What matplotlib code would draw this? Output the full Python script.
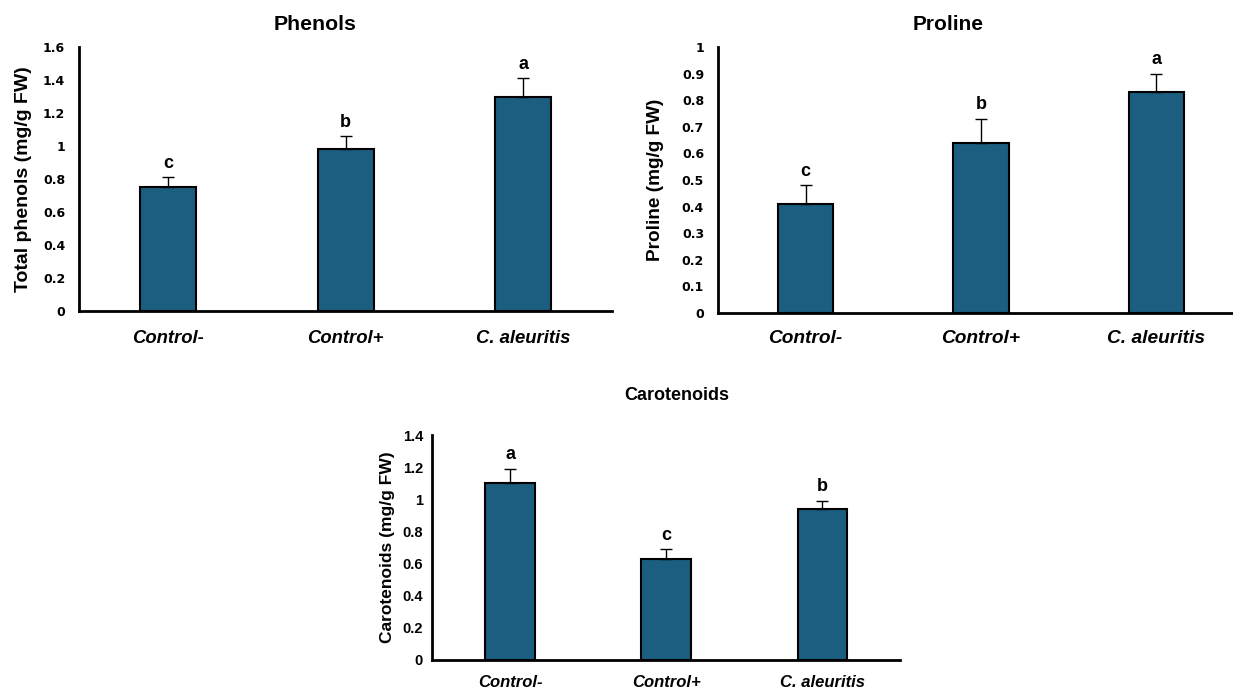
# Phenols, proline and carotenoids bar charts
import numpy as np
import matplotlib
matplotlib.use("Agg")
import matplotlib.pyplot as plt

plt.rcParams['font.family'] = ['Liberation Sans', 'DejaVu Sans']

# Data
groups = ["Control-", "Control+", "C. aleuritis"]

phenols = [0.75, 0.98, 1.30]
phenols_err = [0.06, 0.08, 0.11]
phenols_letters = ["c", "b", "a"]

proline = [0.41, 0.64, 0.83]
proline_err = [0.07, 0.09, 0.07]
proline_letters = ["c", "b", "a"]

carotenoids = [1.10, 0.63, 0.94]
carotenoids_err = [0.09, 0.06, 0.05]
carotenoids_letters = ["a", "c", "b"]

BAR_COLOR = "#1b5e80"


def draw_panel(ax, values, errs, letters, ylabel, ymax, step,
               lab_size, ylab_size, tick_font, tick_size, ypad, xpad, ylabpad):
    x = np.arange(len(groups))
    ax.bar(x, values, width=0.315, color=BAR_COLOR, edgecolor="black",
           linewidth=1.5, zorder=2)
    ax.errorbar(x, values, yerr=[np.zeros(len(values)), errs], fmt="none",
                ecolor="black", elinewidth=1.0, capsize=4, capthick=1.0, zorder=3)

    # significance letters above the error bars
    for xi, v, e, let in zip(x, values, errs, letters):
        ax.annotate(let, (xi, v + e), xytext=(0, 4), textcoords="offset points",
                    ha="center", va="bottom", fontsize=13, fontweight="bold")

    ax.set_xlim(-0.5, len(groups) - 0.5)
    ax.set_ylim(0, ymax)
    ticks = np.arange(0, ymax + step / 2, step)
    ax.set_yticks(ticks)
    ax.set_yticklabels(["%g" % round(t, 2) for t in ticks], fontsize=tick_size,
                       fontweight="bold", family=tick_font)
    ax.set_xticks(x)
    ax.set_xticklabels(groups, fontsize=lab_size, fontweight="bold", fontstyle="italic")
    ax.tick_params(axis="both", length=0)
    ax.tick_params(axis="y", pad=ypad)
    ax.tick_params(axis="x", pad=xpad)

    ax.spines["top"].set_visible(False)
    ax.spines["right"].set_visible(False)
    ax.spines["left"].set_linewidth(2)
    ax.spines["bottom"].set_linewidth(2)
    ax.set_ylabel(ylabel, fontsize=ylab_size, fontweight="bold", labelpad=ylabpad)


fig = plt.figure(figsize=(12.33, 6.88), dpi=100)

ax1 = fig.add_axes([0.0641, 0.548, 0.4323, 0.3836])
draw_panel(ax1, phenols, phenols_err, phenols_letters,
           "Total phenols (mg/g FW)", 1.6, 0.2, 13.3, 14,
           "DejaVu Sans", 9, 10, 14, 8)

ax2 = fig.add_axes([0.5823, 0.545, 0.4267, 0.3866])
draw_panel(ax2, proline, proline_err, proline_letters,
           "Proline (mg/g FW)", 1.0, 0.1, 13.8, 13.7,
           "DejaVu Sans", 9, 10, 12, 13)

ax3 = fig.add_axes([0.3504, 0.0407, 0.3796, 0.327])
draw_panel(ax3, carotenoids, carotenoids_err, carotenoids_letters,
           "Carotenoids (mg/g FW)", 1.4, 0.2, 12, 12.5,
           "Liberation Sans", 10.5, 6.5, 11, 5)

fig.text(315 / 1233, 1 - 25 / 688, "Phenols", ha="center", va="center",
         fontsize=15.3, fontweight="bold")
fig.text(948 / 1233, 1 - 25 / 688, "Proline", ha="center", va="center",
         fontsize=15, fontweight="bold")
fig.text(677 / 1233, 1 - 395 / 688, "Carotenoids", ha="center", va="center",
         fontsize=13, fontweight="bold")

fig.savefig("out.png", dpi=100)
